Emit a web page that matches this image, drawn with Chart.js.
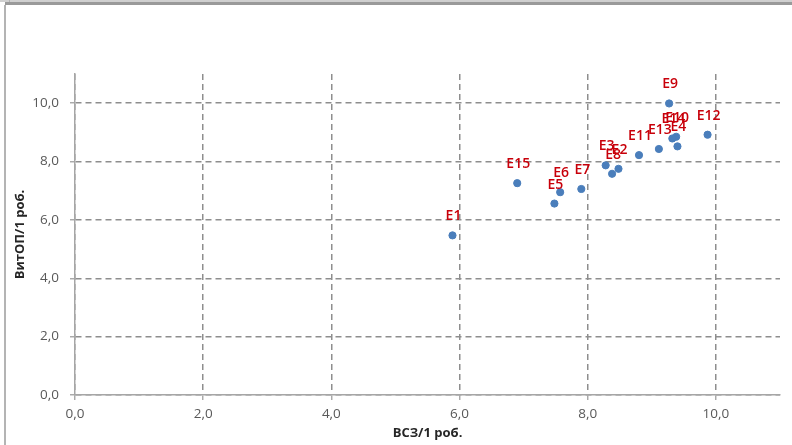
<!DOCTYPE html>
<html>
<head>
<meta charset="utf-8">
<script src="https://cdn.jsdelivr.net/npm/chart.js@4/dist/chart.umd.min.js"></script>
<style>
  html, body { margin: 0; padding: 0; background: #fff; }
  #wrap { position: relative; width: 792px; height: 445px; }
</style>
</head>
<body>
<div id="wrap"><canvas id="scatterCanvas" width="792" height="445"></canvas></div>
<script>
// point names and values
var pointNames = ['E1', 'E2', 'E3', 'E4', 'E5', 'E6', 'E7', 'E8', 'E9', 'E10', 'E11', 'E12', 'E13', 'E14', 'E15'];
var vszValues  = [5.89, 8.48, 8.28, 9.40, 7.48, 7.57, 7.90, 8.38, 9.27, 9.38, 8.80, 9.87, 9.11, 9.32, 6.90];
var vitopValues = [5.47, 7.75, 7.87, 8.52, 6.56, 6.95, 7.06, 7.58, 9.99, 8.85, 8.22, 8.92, 8.43, 8.79, 7.26];
var tickValues = [0, 2, 4, 6, 8, 10];

var xTitle = 'ВСЗ/1 роб.';
var yTitle = 'ВитОП/1 роб.';

var points = [];
for (var i = 0; i < pointNames.length; i++) {
    points.push({x: vszValues[i], y: vitopValues[i]});
}

function commaFmt(v) {
    return v.toFixed(1).replace('.', ',');
}

function keepTicks(scale) {
    scale.ticks = tickValues.map(function (v) { return {value: v}; });
}

// outer frame of the screenshot
var framePlugin = {
    id: 'frame',
    beforeDraw: function (chart) {
        var ctx = chart.ctx;
        ctx.save();
        ctx.fillStyle = '#d0d0d0';
        ctx.fillRect(0, 0, 792, 2);
        ctx.fillStyle = '#9a9a9a';
        ctx.fillRect(5, 2, 787, 3);
        ctx.fillStyle = '#b4b4b4';
        ctx.fillRect(4, 5, 2, 440);
        ctx.fillRect(9, 0, 1, 2);
        ctx.restore();
    }
};

// point names above the markers
var namesPlugin = {
    id: 'pointNames',
    afterDatasetsDraw: function (chart) {
        var ctx = chart.ctx;
        var meta = chart.getDatasetMeta(0);
        ctx.save();
        ctx.font = '600 14px "Open Sans"';
        ctx.fillStyle = '#c8000a';
        ctx.textAlign = 'center';
        ctx.textBaseline = 'middle';
        meta.data.forEach(function (el, idx) {
            ctx.fillText(pointNames[idx], el.x + 1, el.y - 19);
        });
        ctx.restore();
    }
};

var gridOpts = {
    color: '#8e8e8e',
    lineWidth: 1.5,
    tickLength: 5,
    drawTicks: true,
    tickColor: '#a6a6a6',
    tickWidth: 1.4
};

var config = {
    type: 'scatter',
    data: {
        datasets: [{
            label: 'E',
            data: points,
            backgroundColor: '#4a7ebb',
            borderColor: '#4a7ebb',
            pointRadius: 3.6,
            pointHoverRadius: 3.6
        }]
    },
    options: {
        responsive: false,
        animation: false,
        events: [],
        layout: {padding: {top: 74, right: 12, left: 0, bottom: 0}},
        plugins: {
            legend: {display: false},
            tooltip: {enabled: false}
        },
        scales: {
            x: {
                type: 'linear',
                min: 0,
                max: 11,
                afterBuildTicks: keepTicks,
                afterFit: function (s) { s.height = 50; },
                grid: gridOpts,
                border: {color: '#a6a6a6', width: 1.5, dash: [6, 4]},
                ticks: {
                    color: '#595959',
                    font: {family: 'Open Sans', size: 13.5},
                    padding: 6,
                    maxRotation: 0,
                    callback: function (v) { return commaFmt(v); }
                },
                title: {
                    display: true,
                    text: xTitle,
                    color: '#262626',
                    font: {family: 'Open Sans', size: 13, weight: 'bold'},
                    padding: {top: 0, bottom: 4}
                }
            },
            y: {
                type: 'linear',
                min: 0,
                max: 11,
                afterBuildTicks: keepTicks,
                afterFit: function (s) { s.width = 75; },
                grid: gridOpts,
                border: {color: '#a6a6a6', width: 1.5, dash: [6, 4]},
                ticks: {
                    color: '#595959',
                    font: {family: 'Open Sans', size: 13.5},
                    padding: 11,
                    callback: function (v) { return commaFmt(v); }
                },
                title: {
                    display: true,
                    text: yTitle,
                    color: '#262626',
                    font: {family: 'Open Sans', size: 13, weight: 'bold'},
                    padding: {top: 12, bottom: 0}
                }
            }
        }
    },
    plugins: [framePlugin, namesPlugin]
};

new Chart(document.getElementById('scatterCanvas'), config);
</script>
</body>
</html>
